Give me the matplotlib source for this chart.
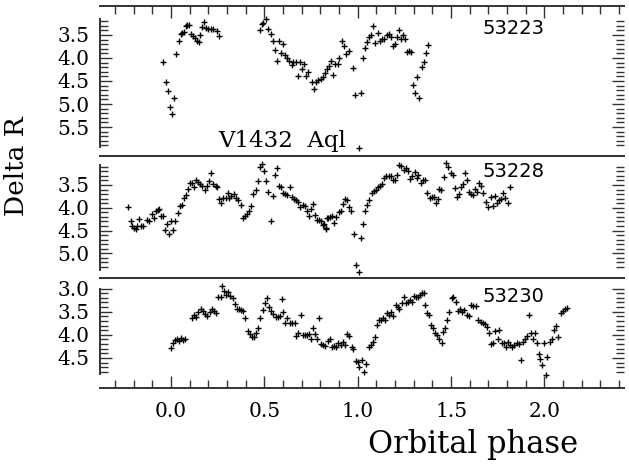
import matplotlib
matplotlib.use('Agg')
import matplotlib.pyplot as plt
from matplotlib.ticker import FixedLocator, MultipleLocator, FormatStrFormatter
import numpy as np

# ---------------- data ----------------
ph_53223 = [-0.041, -0.028, -0.018, -0.005, 0.004, 0.016, 0.028, 0.041, 0.052, 0.061, 0.068,
            0.079, 0.087, 0.098, 0.109, 0.120, 0.129, 0.139, 0.148, 0.155, 0.164, 0.175,
            0.187, 0.200, 0.213, 0.223, 0.245, 0.255,
            0.477, 0.487, 0.495, 0.507, 0.521, 0.534, 0.545, 0.555, 0.566, 0.577, 0.588,
            0.600, 0.611, 0.623, 0.634, 0.646, 0.655, 0.668, 0.680, 0.691, 0.702, 0.712,
            0.723, 0.735, 0.755, 0.766, 0.777, 0.789, 0.802, 0.812, 0.823, 0.834, 0.845,
            0.855, 0.869, 0.880, 0.893, 0.902, 0.914, 0.925, 0.937, 0.952, 0.973, 0.984,
            1.005, 1.016, 1.027, 1.037, 1.048, 1.059, 1.070, 1.084, 1.095, 1.107, 1.119,
            1.130, 1.141, 1.155, 1.166, 1.177, 1.187, 1.198, 1.209, 1.220, 1.230, 1.241,
            1.252, 1.264, 1.275, 1.285, 1.296, 1.309, 1.319, 1.330, 1.343, 1.353, 1.364,
            1.377]
dr_53223 = [4.08, 4.53, 4.71, 5.06, 5.22, 4.88, 3.91, 3.62, 3.48, 3.45, 3.44,
            3.30, 3.28, 3.29, 3.48, 3.52, 3.57, 3.63, 3.66, 3.51, 3.32, 3.22,
            3.34, 3.36, 3.38, 3.38, 3.41, 3.52,
            3.39, 3.26, 3.25, 3.15, 3.38, 3.48, 3.63, 3.83, 4.07, 3.63, 3.90,
            3.69, 3.93, 4.01, 4.06, 4.16, 4.08, 4.09, 4.39, 4.09, 4.24, 4.12,
            4.39, 4.30, 4.53, 4.67, 4.52, 4.48, 4.46, 4.41, 4.32, 4.23, 4.17,
            4.06, 4.38, 4.12, 4.12, 4.01, 3.62, 3.75, 3.92, 3.84, 4.21, 4.80,
            5.95, 4.77, 3.99, 3.79, 3.66, 3.55, 3.50, 3.30, 3.68, 3.46, 3.64,
            3.59, 3.58, 3.49, 3.48, 3.54, 3.75, 3.70, 3.54, 3.39, 3.59, 3.51,
            3.59, 3.87, 3.85, 3.88, 4.59, 4.77, 4.41, 4.88, 4.20, 4.09, 3.90,
            3.72]

ph_53228 = [-0.232, -0.216, -0.207, -0.198, -0.189, -0.184, -0.170, -0.162, -0.148, -0.127,
            -0.116, -0.103, -0.093, -0.082, -0.071, -0.063, -0.054, -0.041, -0.034, -0.023,
            -0.012, 0.000, 0.011, 0.023, 0.036, 0.047, 0.057, 0.068, 0.079, 0.091, 0.102,
            0.112, 0.123, 0.134, 0.143, 0.155, 0.166, 0.180, 0.191, 0.202, 0.213, 0.227,
            0.239, 0.248, 0.259, 0.270, 0.280, 0.293, 0.305, 0.312, 0.323, 0.336, 0.348,
            0.360, 0.373, 0.384, 0.395, 0.405, 0.418, 0.430, 0.441, 0.454, 0.464, 0.475,
            0.487, 0.498, 0.509, 0.521, 0.534, 0.545, 0.555, 0.566, 0.578, 0.589, 0.602,
            0.612, 0.623, 0.636, 0.646, 0.657, 0.668, 0.679, 0.691, 0.705, 0.718, 0.728,
            0.739, 0.750, 0.761, 0.771, 0.782, 0.793, 0.803, 0.816, 0.830, 0.843,
            0.820, 0.828, 0.837, 0.852, 0.864, 0.873, 0.885, 0.898, 0.909, 0.920, 0.932,
            0.943, 0.955, 0.966, 0.979, 0.993, 1.005, 1.016, 1.027, 1.039, 1.050, 1.062,
            1.075, 1.086, 1.098, 1.109, 1.119, 1.130, 1.141, 1.152, 1.166, 1.177, 1.189,
            1.200, 1.212, 1.223, 1.234, 1.248, 1.260, 1.271, 1.282, 1.293, 1.306, 1.318,
            1.325, 1.337, 1.350, 1.362, 1.373, 1.387, 1.398, 1.409, 1.418, 1.428, 1.437,
            1.448, 1.462, 1.473, 1.484, 1.498, 1.509, 1.520, 1.530, 1.541, 1.552, 1.562,
            1.573, 1.584, 1.595, 1.605, 1.616, 1.628, 1.637, 1.650, 1.662, 1.673, 1.687,
            1.700, 1.712, 1.723, 1.735, 1.744, 1.755, 1.768, 1.778, 1.791, 1.803, 1.814]
dr_53228 = [3.98, 4.29, 4.40, 4.44, 4.46, 4.40, 4.25, 4.40, 4.40, 4.27,
            4.29, 4.14, 4.22, 4.07, 4.05, 4.03, 4.17, 4.19, 4.49, 4.35,
            4.57, 4.29, 4.48, 4.30, 4.11, 3.96, 3.94, 3.79, 3.72, 3.59, 3.45,
            3.46, 3.55, 3.38, 3.43, 3.47, 3.52, 3.60, 3.52, 3.41, 3.23, 3.48,
            3.52, 3.54, 3.81, 3.89, 3.79, 3.79, 3.67, 3.78, 3.75, 3.70, 3.79,
            3.84, 3.94, 4.22, 4.18, 4.14, 4.06, 3.95, 3.70, 3.61, 3.41, 3.10,
            3.04, 3.19, 3.41, 3.66, 4.29, 3.74, 3.28, 3.12, 3.52, 3.55, 3.68,
            3.70, 3.72, 3.54, 3.76, 3.81, 3.84, 3.88, 3.99, 3.94, 3.97, 4.07,
            4.17, 4.03, 3.91, 4.16, 4.27, 4.27, 4.30, 4.38, 4.45, 4.22,
            4.36, 4.46, 4.23, 4.20, 4.19, 4.33, 4.20, 4.09, 4.07, 3.92, 3.81,
            3.84, 3.99, 4.06, 4.57, 5.25, 5.40, 4.66, 4.36, 4.07, 3.94, 3.84,
            3.68, 3.63, 3.60, 3.54, 3.52, 3.48, 3.34, 3.30, 3.30, 3.30, 3.40,
            3.40, 3.28, 3.06, 3.08, 3.17, 3.12, 3.19, 3.37, 3.30, 3.21, 3.34,
            3.27, 3.45, 3.39, 3.40, 3.67, 3.78, 3.76, 3.76, 3.90, 3.81, 3.59,
            3.62, 3.33, 3.02, 3.10, 3.23, 3.27, 3.56, 3.76, 3.70, 3.54, 3.48,
            3.24, 3.38, 3.66, 3.70, 3.72, 3.59, 3.65, 3.46, 3.52, 3.67, 3.88,
            3.98, 3.76, 3.96, 3.74, 3.89, 3.84, 3.81, 3.67, 3.79, 3.89, 3.55]

ph_53230 = [-0.002, 0.009, 0.020, 0.030, 0.041, 0.052, 0.063, 0.073, 0.111, 0.123, 0.134,
            0.146, 0.159, 0.170, 0.182, 0.195, 0.207, 0.220, 0.230, 0.241, 0.253, 0.266,
            0.272, 0.284, 0.295, 0.307, 0.316, 0.330, 0.343, 0.354, 0.364, 0.375, 0.386,
            0.398, 0.411, 0.423, 0.434, 0.445, 0.455, 0.466, 0.478, 0.491, 0.503, 0.514,
            0.527, 0.537, 0.548, 0.561, 0.572, 0.584, 0.593, 0.602, 0.612, 0.623, 0.637,
            0.650, 0.662, 0.670, 0.680, 0.695, 0.705, 0.718, 0.730, 0.741, 0.752, 0.762,
            0.773, 0.784, 0.794, 0.805, 0.816, 0.826, 0.841, 0.852, 0.864, 0.873, 0.884,
            0.896, 0.909, 0.920, 0.932, 0.944, 0.955, 0.968, 0.976, 0.991, 1.002, 1.009,
            1.021, 1.034, 1.044, 1.059, 1.070, 1.080, 1.091, 1.102, 1.112, 1.123, 1.136,
            1.148, 1.159, 1.169, 1.180, 1.191, 1.204, 1.214, 1.223, 1.236, 1.248, 1.259,
            1.270, 1.280, 1.291, 1.302, 1.312, 1.323, 1.334, 1.344, 1.355, 1.360, 1.373,
            1.384, 1.394, 1.405, 1.416, 1.427, 1.437, 1.450, 1.459, 1.469, 1.480, 1.491,
            1.504, 1.512, 1.525, 1.539, 1.550, 1.560, 1.571, 1.584, 1.596, 1.608, 1.619,
            1.632, 1.646, 1.659, 1.670, 1.682, 1.694, 1.705, 1.716, 1.726, 1.737, 1.750,
            1.759, 1.771, 1.784, 1.794, 1.805, 1.816, 1.828, 1.839, 1.852, 1.864, 1.873,
            1.884, 1.895, 1.905, 1.916, 1.927, 1.938, 1.948, 1.959, 1.970, 1.977, 1.987,
            1.998, 2.009, 2.016, 2.030, 2.041, 2.051, 2.062, 2.075, 2.087, 2.098, 2.109,
            2.120]
dr_53230 = [4.29, 4.18, 4.11, 4.10, 4.13, 4.06, 4.11, 4.10, 3.64, 3.57, 3.61,
            3.50, 3.45, 3.48, 3.55, 3.59, 3.51, 3.45, 3.48, 3.52, 3.19, 3.19,
            2.94, 3.05, 3.14, 3.07, 3.16, 3.21, 3.33, 3.43, 3.45, 3.46, 3.48,
            3.64, 3.91, 3.98, 4.05, 4.05, 3.97, 3.86, 3.64, 3.46, 3.31, 3.21,
            3.39, 3.48, 3.55, 3.61, 3.61, 3.59, 3.23, 3.50, 3.75, 3.64, 3.74,
            3.74, 3.74, 4.03, 3.95, 3.57, 4.00, 4.00, 4.00, 3.98, 4.10, 3.86,
            3.98, 4.10, 3.64, 4.20, 4.22, 4.24, 4.13, 4.10, 4.26, 4.24, 4.27,
            4.18, 4.22, 4.15, 4.22, 3.98, 4.03, 4.26, 4.31, 4.56, 4.58, 4.70,
            4.55, 4.81, 4.62, 4.26, 4.22, 4.15, 4.05, 3.79, 3.68, 3.67, 3.64,
            3.67, 3.53, 3.57, 3.50, 3.59, 3.36, 3.39, 3.45, 3.32, 3.19, 3.31,
            3.28, 3.25, 3.28, 3.16, 3.18, 3.19, 3.14, 3.10, 3.09, 3.36, 3.53,
            3.57, 3.79, 3.86, 3.95, 4.00, 4.10, 4.17, 3.93, 3.86, 3.68, 3.50,
            3.21, 3.18, 3.28, 3.48, 3.45, 3.50, 3.46, 3.57, 3.59, 3.36, 3.38,
            3.38, 3.68, 3.72, 3.74, 3.77, 3.83, 3.95, 4.20, 4.18, 3.91, 4.10,
            3.90, 4.17, 4.18, 4.27, 4.15, 4.22, 4.26, 4.22, 4.17, 4.20, 4.55,
            4.15, 4.10, 4.03, 3.57, 3.95, 4.08, 3.97, 4.18, 4.42, 4.53, 4.65,
            4.18, 4.87, 4.49, 4.15, 4.08, 3.90, 3.81, 4.05, 3.53, 3.48, 3.43,
            3.41]

nights = ["53223", "53228", "53230"]
phases = [ph_53223, ph_53228, ph_53230]
deltas = [dr_53223, dr_53228, dr_53230]
ytick_major = [[3.5, 4.0, 4.5, 5.0, 5.5], [3.5, 4.0, 4.5, 5.0], [3.0, 3.5, 4.0, 4.5]]
ytick_minor_range = [(3.2, 5.9), (3.1, 5.3), (3.0, 4.8)]
spine_range = [(3.15, 5.93), (3.06, 5.36), (3.0, 4.85)]
ylims = [(6.13, 2.87), (5.54, 2.864), (5.15, 2.77)]
xticks = [0.0, 0.5, 1.0, 1.5, 2.0]

# ---------------- layout ----------------
W, H = 629, 466
fig = plt.figure(figsize=(W / 100, H / 100), dpi=100)
panels_px = [(6, 156), (156, 278), (278, 388)]
serif = ['DejaVu Serif']
spine_col = '#333333'
tick_fs = 14.5

axes = []
for i, (top, bot) in enumerate(panels_px):
    ax = fig.add_axes([100 / W, 1 - bot / H, 524 / W, (bot - top) / H])
    axes.append(ax)
    ax.plot(phases[i], deltas[i], linestyle='none', marker='+', markersize=4.2,
            markeredgewidth=1.0, color='black')
    ax.set_xlim(-0.38, 2.426)
    ax.set_ylim(*ylims[i])
    for s in ['top', 'bottom', 'left']:
        ax.spines[s].set_color(spine_col)
        ax.spines[s].set_linewidth(1.4)
    ax.spines['right'].set_visible(False)
    ax.spines['left'].set_bounds(*spine_range[i])
    ax.yaxis.set_major_locator(FixedLocator(ytick_major[i]))
    lo, hi = ytick_minor_range[i]
    ax.yaxis.set_minor_locator(FixedLocator(np.round(np.arange(lo, hi + 0.001, 0.1), 2)))
    ax.yaxis.set_major_formatter(FormatStrFormatter('%.1f'))
    ax.tick_params(axis='y', which='both', left=True, right=True, direction='in',
                   color=spine_col, width=1.0)
    ax.tick_params(axis='y', which='major', length=8.6, pad=7.5, labelsize=tick_fs)
    ax.tick_params(axis='y', which='minor', length=5.8)
    ax.xaxis.set_major_locator(FixedLocator(xticks))
    ax.xaxis.set_minor_locator(MultipleLocator(0.1))
    ax.xaxis.set_major_formatter(FormatStrFormatter('%.1f'))
    ax.tick_params(axis='x', which='both', direction='in', color=spine_col, width=1.0,
                   top=False, bottom=False, labelbottom=False, labeltop=False)
    ax.tick_params(axis='x', which='major', length=8.4, labelsize=tick_fs, pad=10)
    ax.tick_params(axis='x', which='minor', length=5.5)
    for lab in ax.get_yticklabels() + ax.get_xticklabels():
        lab.set_family(serif)
    ax.text((483 - 100) / 524, [0.853, 0.869, 0.83][i], nights[i], transform=ax.transAxes,
            ha='left', va='center', fontsize=14, family=['DejaVu Sans'])

axes[0].tick_params(axis='x', which='both', top=True)
axes[2].tick_params(axis='x', which='both', bottom=True, labelbottom=True)
for lab in axes[2].get_xticklabels():
    lab.set_family(serif)

axes[0].text((218 - 100) / 524, 0.062, 'V1432  Aql', transform=axes[0].transAxes,
             ha='left', va='baseline', fontsize=16.5, family=serif)

fig.text(473 / W, 1 - 445 / H, 'Orbital phase', ha='center', va='center',
         fontsize=22, family=serif)
fig.text(17 / W, 1 - 166 / H, 'Delta R', ha='center', va='center', rotation=90,
         fontsize=19, family=serif)

fig.savefig('out.png', dpi=100)
